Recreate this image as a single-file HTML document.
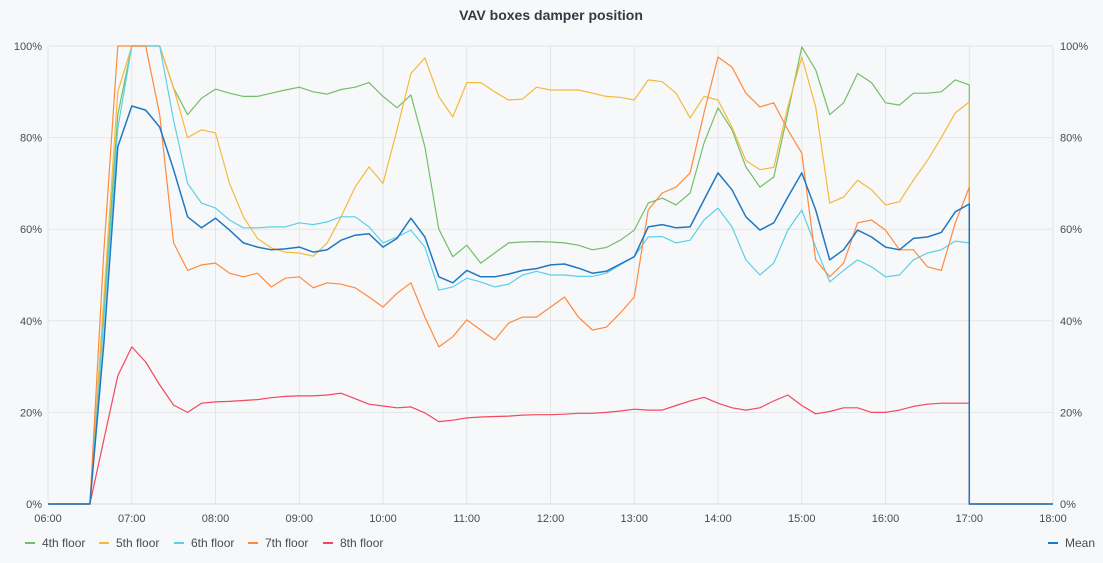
<!DOCTYPE html>
<html><head><meta charset="utf-8"><style>
html,body{margin:0;padding:0;background:#f7f8fa;}
body{width:1103px;height:558px;overflow:hidden;font-family:"Liberation Sans",sans-serif;}
svg text{font-family:"Liberation Sans",sans-serif;}
</style></head><body>
<svg id="chart" width="1103" height="558" xmlns="http://www.w3.org/2000/svg">
<text x="551" y="20" text-anchor="middle" font-size="14" font-weight="bold" fill="#333a42">VAV boxes damper position</text>
<g id="grid"></g><g id="series"></g><g id="legend"></g>
</svg>
<script>
// data: 10-minute samples from 06:30 to 17:00
const startMin = 390, stepMin = 10;
const tickLabels = ["06:00","07:00","08:00","09:00","10:00","11:00","12:00","13:00","14:00","15:00","16:00","17:00","18:00"];
const yTicks = [0,20,40,60,80,100];
const seriesNames = ["4th floor","5th floor","6th floor","7th floor","8th floor","Mean"];
const floor4 = [0,42,85,100,100,100,90.8,85,88.6,90.6, 89.7,89,89,89.7,90.4,91, 90,89.5,90.5,91,92,89, 86.5,89.3,78,60,54,56.5, 52.6,54.8,57,57.2,57.3,57.2, 57,56.5,55.5,56,57.6,59.8, 65.7,66.8,65.3,67.9,78.8,86.5, 81.7,73.6,69.2,71.4,85.4,99.8, 94.8,85,87.6,94,92,87.6, 87.1,89.7,89.7,90,92.6,91.5];
const floor5 = [0,45,90,100,100,100,90.8,80,81.7,81, 70,62.7,58,55.9,55,54.8, 54.1,57,62.7,69.2,73.6,70, 81.7,94,97.4,89,84.5,92, 92,90,88.2,88.4,91,90.4, 90.4,90.4,89.7,89,88.8,88.2, 92.6,92.2,89.7,84.3,89,88.2, 82.3,75,73,73.5,86.7,97.6, 86.7,65.7,67,70.7,68.6,65.3, 66,70.7,75,80,85.4,87.8];
const floor6 = [0,40,82,100,100,100,83.8,70,65.7,64.6, 62,60.3,60.3,60.5,60.5,61.4, 61,61.6,62.7,62.7,60.5,57, 58.3,59.8,56.1,46.7,47.4,49.3, 48.5,47.4,48,50,50.8,50, 50,49.7,49.7,50.4,52.2,54, 58.3,58.4,57,57.6,62,64.6, 60.5,53.3,50,52.6,59.8,64.2, 56.1,48.5,51,53.3,51.8,49.6, 50,53.3,54.8,55.5,57.4,57];
const floor7 = [0,55,100,100,100,85,57,51,52.2,52.6, 50.4,49.6,50.4,47.4,49.3,49.6, 47.2,48.3,48,47.2,45.2,43, 46,48.3,40.8,34.3,36.5,40.2, 38,35.8,39.5,40.8,40.8,43, 45.2,40.8,38,38.6,41.7,45.2, 64.2,67.9,69.2,72.3,85.4,97.6, 95.4,89.7,86.7,87.6,81.7,76.6, 53.3,49.6,52.6,61.4,62,59.8, 55.5,55.5,51.8,51,61.4,69.2];
const floor8 = [0,14,28,34.3,31,26,21.6,20,22,22.3, 22.4,22.6,22.8,23.2,23.5,23.6, 23.6,23.8,24.2,23,21.8,21.4, 21,21.2,19.9,18,18.3,18.8, 19,19.1,19.2,19.4,19.5,19.5, 19.6,19.8,19.8,20,20.3,20.7, 20.5,20.5,21.5,22.5,23.3,22, 21,20.5,21,22.5,23.8,21.5, 19.7,20.2,21,21,20,20, 20.5,21.3,21.8,22,22,22];
const meanVals = [0,35,78,86.9,86,82.3,73,62.7,60.3,62.4, 59.8,57,56.1,55.5,55.7,56.1, 55,55.5,57.6,58.7,59,56.1, 58,62.4,58.3,49.6,48.3,51, 49.6,49.6,50.2,51,51.4,52.2, 52.4,51.5,50.4,50.8,52.4,54, 60.5,61,60.3,60.5,66.4,72.3, 68.6,62.7,59.8,61.4,67,72.3, 64.2,53.3,55.5,59.8,58.3,56.1, 55.5,58,58.3,59.3,63.8,65.5];

const colors = ["#73bf69","#f6b93e","#5ad1e6","#ff8a3d","#f2495c","#1f78c1"];
const X0=48, X1=1053, Y0=504, Y1=46;
const xScale = m => X0 + (m-360)/720*(X1-X0);
const yScale = v => Y0 - v/100*(Y0-Y1);
const NS="http://www.w3.org/2000/svg";
const grid=document.getElementById('grid');
function mk(tag, attrs, parent){const e=document.createElementNS(NS,tag);for(const k in attrs)e.setAttribute(k,attrs[k]);parent.appendChild(e);return e;}

yTicks.forEach(v=>{
  const y=yScale(v);
  const l=mk('line',{x1:X0,x2:X1,y1:y,y2:y,stroke:v===0?'#d8d9dc':'#e4e5e8','stroke-width':1},grid);
  
  
  const t=mk('text',{x:42,y:y+4,'text-anchor':'end','font-size':11,fill:'#464c54'},grid);
  t.textContent=v+'%';
  
  
  const t2=mk('text',{x:1060,y:y+4,'text-anchor':'start','font-size':11,fill:'#464c54'},grid);
  t2.textContent=v+'%';
  
  
});
tickLabels.forEach((lab,i)=>{
  const x=xScale(360+i*60);
  const l=mk('line',{x1:x,x2:x,y1:Y1,y2:Y0,stroke:'#e4e5e8','stroke-width':1},grid);
  
  
  const t=mk('text',{x:x,y:522,'text-anchor':'middle','font-size':11,fill:'#464c54'},grid);
  t.textContent=lab;
  
  
});

const allSeries=[floor4,floor5,floor6,floor7,floor8,meanVals];
const sg=document.getElementById('series');
allSeries.forEach((vals,si)=>{
  let d='M'+xScale(360)+','+yScale(0);
  vals.forEach((v,i)=>{d+=' L'+xScale(startMin+i*stepMin).toFixed(1)+','+yScale(v).toFixed(1);});
  const endM=startMin+(vals.length-1)*stepMin;
  d+=' L'+xScale(endM).toFixed(1)+','+yScale(0)+' L'+xScale(1080)+','+yScale(0);
  const p=mk('path',{d:d,fill:'none',stroke:colors[si],'stroke-width':si===5?1.5:1.2,'stroke-linejoin':'round'},sg);
  
  
});

const lg=document.getElementById('legend');
const lx=[25,99,174,248,323];
for(let i=0;i<5;i++){
  const g=mk('g',{},lg);
  
  
  mk('line',{x1:lx[i],x2:lx[i]+10,y1:543,y2:543,stroke:colors[i],'stroke-width':2},g);
  const t=mk('text',{x:lx[i]+17,y:547,'font-size':12,fill:'#464c54'},g);
  t.textContent=seriesNames[i];
}
const gm=mk('g',{},lg);


mk('line',{x1:1048,x2:1058,y1:543,y2:543,stroke:colors[5],'stroke-width':2},gm);
const tm=mk('text',{x:1065,y:547,'font-size':12,fill:'#464c54'},gm);
tm.textContent='Mean';
</script>
</body></html>
